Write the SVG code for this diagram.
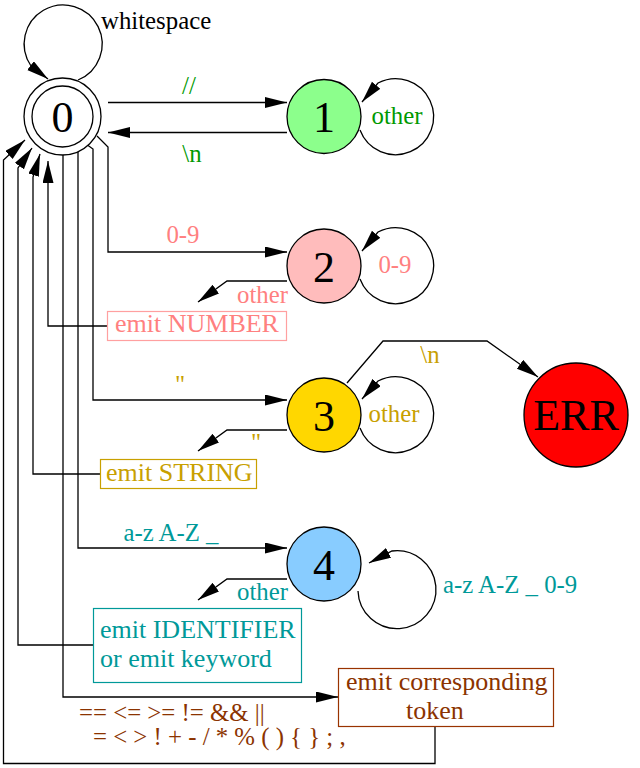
<svg xmlns="http://www.w3.org/2000/svg" width="640" height="768" viewBox="0 0 640 768">
<defs>
<marker id="ah" markerUnits="userSpaceOnUse" markerWidth="24" markerHeight="12" refX="22" refY="5.5" orient="auto">
<path d="M0,0 L22,5.5 L0,11 z" fill="#000"/>
</marker>
</defs>
<style>
text{font-family:"Liberation Serif","Times New Roman",serif}
.lbl{font-size:24.8px}
.box{font-size:26px}
.st{font-size:44px;text-anchor:middle;fill:#000}
.e{fill:none;stroke:#000;stroke-width:1.3;marker-end:url(#ah)}
.node{stroke:#000;stroke-width:1.3}
.g{fill:#009900}.p{fill:#ff8080}.y{fill:#c8a000}.t{fill:#009999}.b{fill:#8b3300}
.mid{text-anchor:middle}
</style>
<rect width="640" height="768" fill="#fff"/>
<g id="connectors">
<path class="e" d="M78,80 A39,39 0 1 0 31,66 L48,79"/>
<path class="e" d="M108,102.5 L287,102.5"/>
<path class="e" d="M287,132.5 L108,132.5"/>
<path class="e" d="M360,130 A38,38 0 1 0 378,83 L362,102"/>
<path class="e" d="M97,136 L108,147 L108,252 L287,252"/>
<path class="e" d="M360,279 A38,38 0 1 0 378,232 L362,251"/>
<path class="e" d="M287,281 L227,281 L198,302"/>
<path class="e" d="M107,326 L48,326 L48,161"/>
<path class="e" d="M86,144 L93,149 L93,400 L287,400"/>
<path class="e" d="M360,428 A38,38 0 1 0 378,381 L362,399"/>
<path class="e" d="M347,383 L383,341 L487,341 L538,377"/>
<path class="e" d="M287,430 L227,430 L198,451"/>
<path class="e" d="M100,474 L33,474 L33,177 L40,154"/>
<path class="e" d="M78,152 L78,548 L287,548"/>
<path class="e" d="M358,591 A39,39 0 1 0 392,551 L369,563"/>
<path class="e" d="M287,579 L227,579 L198,600"/>
<path class="e" d="M93,645 L18,645 L18,168 L32,148"/>
<path class="e" d="M63,155 L63,697 L338,697"/>
<path class="e" d="M435,727 L435,763.5 L3.5,763.5 L3.5,160 L25,140"/>
</g>
<g id="labels">
<text class="lbl" x="101" y="29" fill="#000">whitespace</text>
<text class="lbl g mid" x="189" y="94">//</text>
<text class="lbl g mid" x="192" y="162">\n</text>
<text class="lbl g mid" x="397" y="124">other</text>
<text class="lbl p mid" x="183" y="243">0-9</text>
<text class="lbl p mid" x="395" y="273">0-9</text>
<text class="lbl p" x="288" y="303" text-anchor="end">other</text>
<text class="lbl y mid" x="180" y="393">"</text>
<text class="lbl y mid" x="394" y="422">other</text>
<text class="lbl y mid" x="430" y="363">\n</text>
<text class="lbl y mid" x="256" y="451">"</text>
<text class="lbl t mid" x="171" y="541">a-z A-Z _</text>
<text class="lbl t" x="443" y="593">a-z A-Z _ 0-9</text>
<text class="lbl t" x="288" y="600" text-anchor="end">other</text>
<text class="lbl b" x="79" y="721">== &lt;= &gt;= != &amp;&amp; ||</text>
<text class="lbl b" x="93" y="745">= &lt; &gt; ! + - / * % ( ) { } ; ,</text>
</g>
<g id="n0">
<circle cx="62.5" cy="116.5" r="38.5" fill="#fff" class="node"/>
<circle cx="62.5" cy="116.5" r="30.5" fill="none" class="node"/>
<text class="st" x="62.5" y="132">0</text>
</g>
<g id="n1">
<circle cx="324" cy="116.5" r="37" fill="#8cff8c" class="node"/>
<text class="st" x="324" y="132">1</text>
</g>
<g id="n2">
<circle cx="324" cy="266" r="37" fill="#ffbcbc" class="node"/>
<text class="st" x="324" y="281.5">2</text>
</g>
<g id="n3">
<circle cx="324" cy="415" r="37" fill="#ffd700" class="node"/>
<text class="st" x="324" y="430.5">3</text>
</g>
<g id="n4">
<circle cx="324" cy="564" r="37" fill="#88ccff" class="node"/>
<text class="st" x="324" y="579.5">4</text>
</g>
<g id="err">
<circle cx="576" cy="415" r="52" fill="#ff0000" class="node"/>
<text class="st" x="576" y="430">ERR</text>
</g>
<g id="emitNumber">
<rect x="107.5" y="311.5" width="179" height="29" fill="#fff" stroke="#ffa0a0" stroke-width="1.2"/>
<text class="box p" x="115" y="332">emit NUMBER</text>
</g>
<g id="emitString">
<rect x="100.5" y="459.5" width="156" height="29" fill="#fff" stroke="#c8a000" stroke-width="1.2"/>
<text class="box y" x="106" y="481">emit STRING</text>
</g>
<g id="emitIdentifier">
<rect x="93.5" y="608.5" width="208" height="74" fill="#fff" stroke="#009999" stroke-width="1.2"/>
<text class="box t" x="100" y="638">emit IDENTIFIER</text>
<text class="box t" x="100" y="667">or emit keyword</text>
</g>
<g id="emitToken">
<rect x="338.5" y="668.5" width="215" height="58" fill="#fff" stroke="#993300" stroke-width="1.2"/>
<text class="box b" x="346" y="690">emit corresponding</text>
<text class="box b" x="406" y="719">token</text>
</g>
</svg>
